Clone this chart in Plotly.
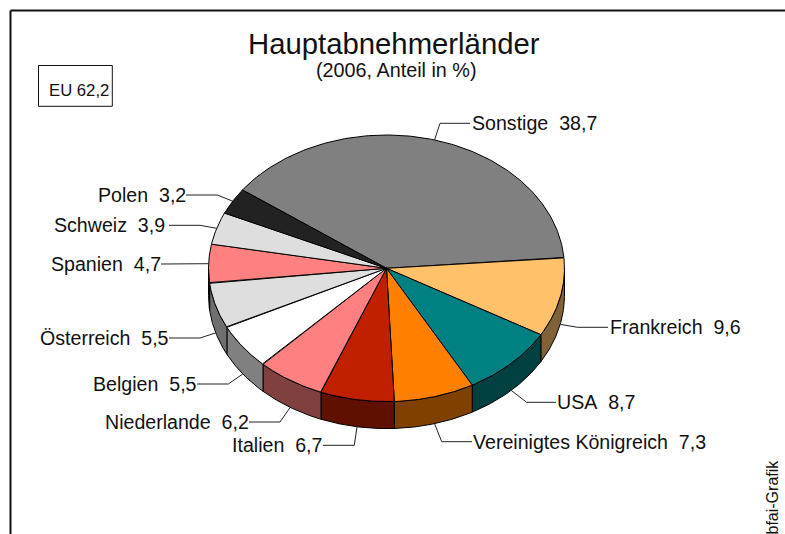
import numpy as np
import plotly.graph_objects as go

# ---- data ----
categories = ["Sonstige", "Frankreich", "USA", "Vereinigtes Königreich", "Italien",
              "Niederlande", "Belgien", "Österreich", "Spanien", "Schweiz", "Polen"]
values = [38.7, 9.6, 8.7, 7.3, 6.7, 6.2, 5.5, 5.5, 4.7, 3.9, 3.2]
title_text = "Hauptabnehmerländer"
subtitle_text = "(2006, Anteil in %)"
box_text = "EU 62,2"
source_text = "bfai-Grafik"

# ---- styles ----
top_colors = ["#808080", "#FFC169", "#008080", "#FF8000", "#C02000",
              "#FF8080", "#FFFFFF", "#DEDEDE", "#FF8080", "#DEDEDE", "#222222"]
side_colors = ["#404040", "#806138", "#004040", "#804000", "#601000",
               "#804040", "#808080", "#6F6F6F", "#804040", "#6F6F6F", "#111111"]

# ---- layout of the projected pie (pixels on a 785x534 canvas) ----
CX, CY, RX, RY, DEPTH = 386.5, 268.3, 178.0, 133.3, 27.0
START_DEG = 144.0

# elbow x, elbow y, leader end x, text x, side of the text; one row per category
leader_layout = [
    (440, 123.3, 470, 470.5, "left"),
    (577.7, 327.3, 608, 608.5, "left"),
    (526.7, 402.3, 556, 556, "left"),
    (441.7, 441.7, 472, 472, "left"),
    (354.3, 445.3, 323, 323, "right"),
    (280, 422, 249, 250, "right"),
    (228.3, 384, 197, 198, "right"),
    (200, 338, 169, 170, "right"),
    (190, 264, 161, 162, "right"),
    (200, 225.3, 169, 166, "right"),
    (217.3, 195, 186, 187, "right"),
]

FONT = "Liberation Sans, Arial, sans-serif"
LABEL_SIZE = 19.6


def ell(deg, dy=0.0):
    r = np.radians(deg)
    return CX + RX * np.cos(r), CY - RY * np.sin(r) + dy


fig = go.Figure()
spans = np.array(values) / sum(values) * 360.0
ends = START_DEG - np.cumsum(spans)
starts = ends + spans


def add_poly(xs, ys, color, width=1.0):
    fig.add_trace(go.Scatter(x=xs, y=ys, mode="lines", fill="toself", fillcolor=color,
                             line=dict(color="black", width=width), hoverinfo="skip",
                             showlegend=False))


# side walls: only the part of each slice's rim on the front half is visible
for s, e, col in zip(starts, ends, side_colors):
    for shift in (0, -360):
        a0, a1 = min(s + shift, 0), max(e + shift, -180)
        if a0 > a1:
            t = np.linspace(a0, a1, 60)
            xt, yt = ell(t)
            xb, yb = ell(t[::-1], DEPTH)
            add_poly(np.r_[xt, xb, xt[0]], np.r_[yt, yb, yt[0]], col)

# top faces
for s, e, col in zip(starts, ends, top_colors):
    t = np.linspace(s, e, 160)
    xt, yt = ell(t)
    add_poly(np.r_[CX, xt, CX], np.r_[CY, yt, CY], col)

# leader lines and labels
for name, val, s, e, (ex, ey, lx, tx, side) in zip(categories, values, starts, ends, leader_layout):
    mid = (s + e) / 2.0
    front = np.sin(np.radians(mid)) < 0
    ax, ay = ell(mid, DEPTH if front else 0.0)
    fig.add_trace(go.Scatter(x=[ax, ex, lx], y=[ay, ey, ey], mode="lines",
                             line=dict(color="#222222", width=1), hoverinfo="skip",
                             showlegend=False))
    fig.add_annotation(x=tx, y=ey, xref="x", yref="y", showarrow=False,
                       text=f"{name}\u00a0\u00a0{val:.1f}".replace(".", ","),
                       xanchor="left" if side == "left" else "right", yanchor="middle",
                       borderpad=0, font=dict(family=FONT, size=LABEL_SIZE, color="#111111"))

# frame and EU box
shapes = [
    dict(type="line", x0=10.5, x1=10.5, y0=10.5, y1=534, line=dict(color="#111111", width=2)),
    dict(type="line", x0=10.5, x1=785, y0=10.5, y1=10.5, line=dict(color="#111111", width=2)),
    dict(type="rect", x0=38.5, x1=112.3, y0=65.5, y1=106.3, line=dict(color="#111111", width=1)),
]

texts = [
    dict(x=393.5, y=43, text=title_text, size=29.3, angle=0),
    dict(x=396.5, y=70, text=subtitle_text, size=19.8, angle=0),
    dict(x=79, y=90, text=box_text, size=16.7, angle=0),
    dict(x=772, y=497.5, text=source_text, size=16, angle=-90),
]
for t in texts:
    fig.add_annotation(x=t["x"], y=t["y"], xref="x", yref="y", showarrow=False, text=t["text"],
                       textangle=t["angle"], xanchor="center", yanchor="middle", borderpad=0,
                       font=dict(family=FONT, size=t["size"], color="#111111"))

fig.update_layout(
    width=785, height=534, margin=dict(l=0, r=0, t=0, b=0),
    paper_bgcolor="white", plot_bgcolor="white", showlegend=False, shapes=shapes,
    xaxis=dict(range=[0, 785], visible=False, fixedrange=True, domain=[0, 1]),
    yaxis=dict(range=[534, 0], visible=False, fixedrange=True, domain=[0, 1]),
)
fig.write_html("out.html", config=dict(displayModeBar=False),
               post_script="document.body.style.margin='0';document.body.style.overflow='hidden';")
